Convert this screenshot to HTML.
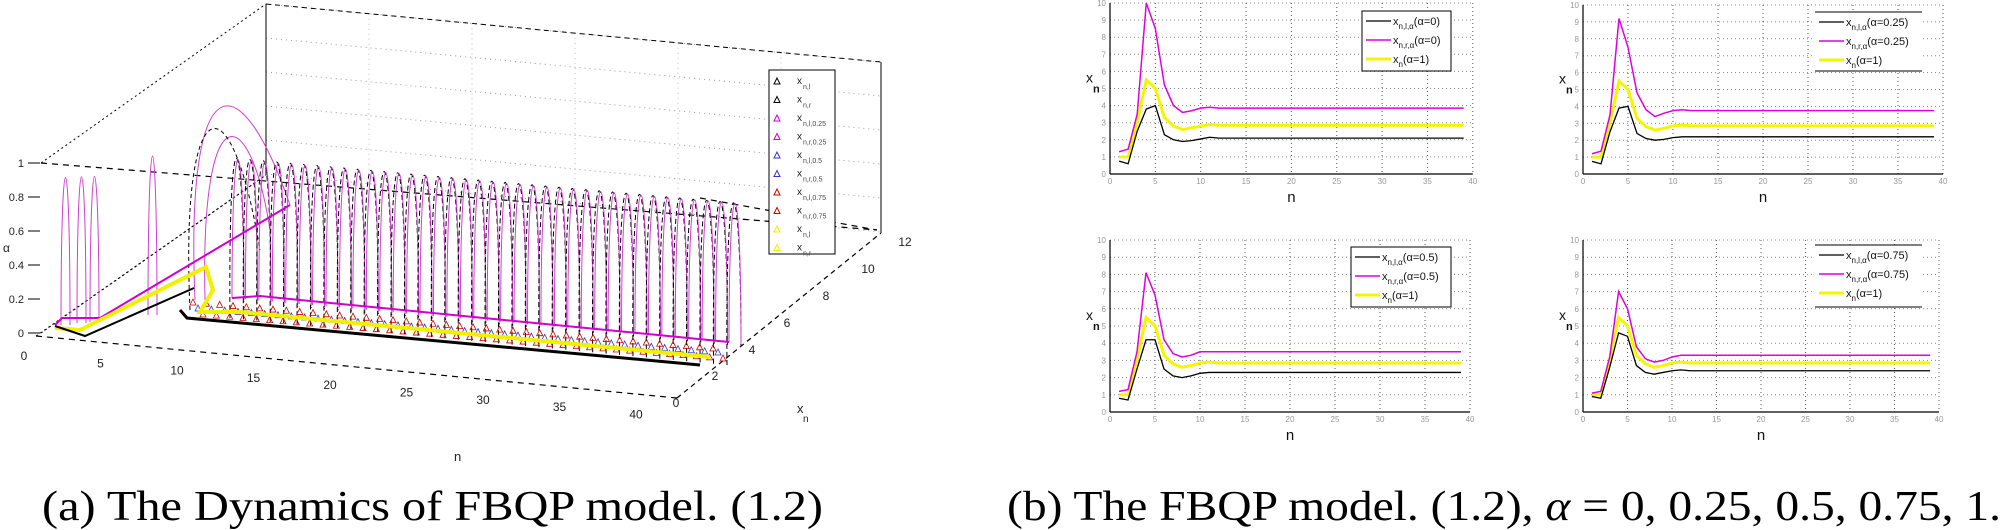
<!DOCTYPE html>
<html><head><meta charset="utf-8"><style>
html,body{margin:0;padding:0;background:#fff;}
svg{display:block;font-family:"Liberation Sans",sans-serif;}
</style></head><body>
<svg id="s" width="2006" height="530" xmlns="http://www.w3.org/2000/svg">
<g id="g3d"></g>
<g id="g2d"></g>
<text x="42" y="520" font-family="Liberation Serif, serif" font-size="42" textLength="781" lengthAdjust="spacingAndGlyphs">(a) The Dynamics of FBQP model. (1.2)</text>
<text x="1007" y="520" font-family="Liberation Serif, serif" font-size="42" textLength="994" lengthAdjust="spacingAndGlyphs">(b) The FBQP model. (1.2), <tspan font-style="italic">α</tspan> = 0, 0.25, 0.5, 0.75, 1.</text>
</svg>
<script>
const NS="http://www.w3.org/2000/svg";
function el(p,t,a,txt){const e=document.createElementNS(NS,t);for(const k in a)e.setAttribute(k,a[k]);if(txt!==undefined)e.textContent=txt;p.appendChild(e);return e;}
const G=document.getElementById('g3d');
function L(g,x1,y1,x2,y2,st,w,da){el(g,'line',{x1,y1,x2,y2,stroke:st,'stroke-width':w||1,'stroke-dasharray':da||'none'});}
// ---- 3D plot ----
// back grid (faint dotted)
for(let i=0;i<6;i++){let y=4+i*34;L(G,266,y,881,62+i*34,'#999',1,'1 4');}
for(let i=1;i<6;i++){let x=266+i*103;L(G,x,4+i*9.7,x,180+i*9,'#bbb',1,'1 4');}
L(G,266,4,881,62,'#000',1,'5 4');
L(G,41,163,266,4,'#000',1,'2 3');
L(G,41,333,266,175,'#000',1,'2 3');
L(G,266,4,266,175,'#000',1);
L(G,881,62,881,233,'#000',1);
L(G,41,163,877,230,'#000',1.2,'6 5');
L(G,700,198,877,230,'#000',1.2,'6 5');
L(G,36,336,677,398,'#000',1.2,'6 5');
L(G,677,398,881,233,'#000',1.2,'5 4');
L(G,36,336,266,175,'#000',1,'2 3');
// z ticks
const zt=['1','0.8','0.6','0.4','0.2','0'];
zt.forEach((t,i)=>{let y=163+i*34;L(G,28,y,40,y,'#000',1);el(G,'text',{x:24,y:y+4,'font-size':11,'text-anchor':'end',fill:'#222'},t);});
el(G,'text',{x:3,y:252,'font-size':12,fill:'#222'},'α');
// n ticks
for(let i=0;i<9;i++){let x=24+i*76.5,y=352+i*7.3;el(G,'text',{x:x,y:y+8,'font-size':12,'text-anchor':'middle',fill:'#222'},String(i*5));}
// xn ticks
[[676,401,'0'],[715,374,'2'],[752,348,'4'],[787,321,'6'],[826,294,'8'],[868,267,'10'],[905,240,'12']].forEach(a=>el(G,'text',{x:a[0],y:a[1]+6,'font-size':12,'text-anchor':'middle',fill:'#222'},a[2]));
el(G,'text',{x:797,y:413,'font-size':13,fill:'#222'},'x');
el(G,'text',{x:803,y:422,'font-size':10,fill:'#222'},'n');
el(G,'text',{x:454,y:461,'font-size':13,fill:'#222'},'n');
// early arcs
[[61,325,153],[77,323,153],[90,322,153],[148,315,128]].forEach(a=>{el(G,'path',{d:`M${a[0]} ${a[1]} C${a[0]} ${a[2]-25} ${a[0]+9} ${a[2]-25} ${a[0]+9} ${a[1]}`,fill:'none',stroke:'#d040d0','stroke-width':1});});
// big loop
el(G,'path',{d:'M195 300 C185 60 240 60 290 205',fill:'none',stroke:'#d040d0','stroke-width':1});
el(G,'path',{d:'M205 300 C200 90 250 100 270 230',fill:'none',stroke:'#d040d0','stroke-width':1});
el(G,'path',{d:'M190 310 C180 90 230 70 260 250',fill:'none',stroke:'#000','stroke-width':1,'stroke-dasharray':'4 3'});
// arcs along magenta line
for(let k=0;k<38;k++){
 let t=k/37;let x=232+t*(729-232),y=298+t*(342-298);
 let top=143+t*(187-143);let w=12;
 let yb=318+t*(365-318);
 el(G,'path',{d:`M${x-2} ${yb} C${x-4} ${top-35} ${x+w} ${top-35} ${x+w} ${y+4}`,fill:'none',stroke:'#000','stroke-width':1,'stroke-dasharray':'5 3'});
 el(G,'path',{d:`M${x} ${y} C${x} ${top-30} ${x+w} ${top-30} ${x+w} ${y+2}`,fill:'none',stroke:'#d040d0','stroke-width':1});
}
// markers rows
for(let k=0;k<40;k++){let t=k/39;let x=190+t*(520);
 [[302,348,'#c00'],[308,352,'#33c'],[314,358,'#c00']].forEach((r,j)=>{let y=r[0]+t*(r[1]-r[0]);let xx=x+j*5;el(G,'path',{d:`M${xx} ${y+3} L${xx+3} ${y-3} L${xx+6} ${y+3}Z`,fill:'none',stroke:r[2],'stroke-width':0.8});});}
// left segments
el(G,'polyline',{points:'55,325 62,318 100,318 290,205',fill:'none',stroke:'#d000d0','stroke-width':2});
el(G,'polyline',{points:'55,328 80,330 206,267 213,290 200,312 240,312 710,357',fill:'none',stroke:'#f0f000','stroke-width':4});
el(G,'polyline',{points:'55,326 85,336 194,288',fill:'none',stroke:'#000','stroke-width':2});
el(G,'polyline',{points:'180,310 187,318 700,365',fill:'none',stroke:'#000','stroke-width':3});
el(G,'polyline',{points:'232,298 260,296 300,300 729,342',fill:'none',stroke:'#d000d0','stroke-width':2});
// legend
el(G,'rect',{x:769,y:70,width:66,height:184,fill:'#fff',stroke:'#000','stroke-width':1});
const lc=['#000','#000','#d000d0','#d000d0','#33c','#33c','#c00','#c00','#ee0','#ee0'];
const ls=['l','r','l,0.25','r,0.25','l,0.5','r,0.5','l,0.75','r,0.75','l','r'];
for(let i=0;i<10;i++){let y=81+i*18.5;el(G,'path',{d:`M${774} ${y+3} L${777} ${y-3} L${780} ${y+3}Z`,fill:'none',stroke:lc[i]});
 el(G,'text',{x:797,y:y+3,'font-size':10,fill:'#222'},'x');el(G,'text',{x:803,y:y+8,'font-size':7,fill:'#444'},'n,'+ls[i]);}
// ---- 2D charts ----
const G2=document.getElementById('g2d');
function chart(x0,ux,y0,y10,curves,leg,lb,open){
 const X=n=>x0+n*ux,Y=v=>y0-(y0-y10)*v/10;
 for(let v=1;v<=10;v++)L(G2,x0,Y(v),X(40),Y(v),'#888',1,'1 3');
 for(let n=5;n<=40;n+=5)L(G2,X(n),y10,X(n),y0,'#555',1,'1 3');
 L(G2,x0,y10,x0,y0,'#000',1.2);L(G2,x0,y0,X(40),y0,'#000',1.2);
 for(let n=0;n<=40;n+=5)el(G2,'text',{x:X(n),y:y0+10,'font-size':8,'text-anchor':'middle',fill:'#999'},String(n));
 for(let v=0;v<=10;v++)el(G2,'text',{x:x0-4,y:Y(v)+3,'font-size':8,'text-anchor':'end',fill:'#999'},String(v));
 el(G2,'text',{x:X(20),y:y0+28,'font-size':15,'text-anchor':'middle',fill:'#111'},'n');
 el(G2,'text',{x:x0-24,y:(y0+y10)/2-6,'font-size':14,fill:'#111'},'x');
 el(G2,'text',{x:x0-17,y:(y0+y10)/2+4,'font-size':11,fill:'#111','font-weight':'bold'},'n');
 const cols=['#000','#e000e0','#f5f500'],wd=[1.3,1.5,3];
 [2,1,0].forEach(i=>{let d=curves[i];let pts=d.map((v,j)=>X(j+1)+','+Y(v)).join(' ');
  el(G2,'polyline',{points:pts,fill:'none',stroke:cols[i],'stroke-width':wd[i]});});
 // legend
 el(G2,'rect',{x:lb[0],y:lb[1],width:lb[2]-lb[0],height:lb[3]-lb[1],fill:'#fff',stroke:open?'none':'#000'});
 if(open){L(G2,lb[0],lb[1],lb[2],lb[1],'#000',1);L(G2,lb[0],lb[3],lb[2],lb[3],'#000',1);}
 for(let i=0;i<3;i++){let y=lb[1]+10+i*19;L(G2,lb[0]+4,y,lb[0]+29,y,cols[i],wd[i]);
  let t=el(G2,'text',{x:lb[0]+31,y:y+4,'font-size':11,fill:'#111'});
  t.innerHTML=leg[i];}
}
function mk(a){ // a: [v1,v2,v3,peak4,v5,v6,v7,v8,v9,v10,v11,flat]
 let r=a.slice(0,11);while(r.length<39)r.push(a[11]);return r;}
const sub=(s)=>`<tspan font-size="8" dy="4">${s}</tspan><tspan dy="-4">`;
function lab(s,al){return `x${sub(s)}(<tspan>α</tspan>=${al})</tspan>`;}
chart(1110,9.07,174,3,[
 mk([0.75,0.6,2.5,3.8,4.0,2.3,2.0,1.9,1.95,2.05,2.15,2.1]),
 mk([1.3,1.45,3.5,10,8.5,5.2,4.0,3.6,3.7,3.85,3.9,3.85]),
 mk([1.0,1.0,3.0,5.5,5.0,3.3,2.8,2.6,2.7,2.8,2.9,2.85])],
 [lab('n,l,α','0'),lab('n,r,α','0'),lab('n','1')],[1362,11,1451,71],false);
chart(1583,9.0,174,5,[
 mk([0.75,0.6,2.5,3.9,4.0,2.4,2.1,2.0,2.05,2.15,2.2,2.2]),
 mk([1.2,1.35,3.5,9.2,7.5,4.8,3.8,3.4,3.6,3.75,3.8,3.75]),
 mk([1.0,1.0,3.0,5.5,5.0,3.3,2.8,2.6,2.7,2.85,2.9,2.85])],
 [lab('n,l,α','0.25'),lab('n,r,α','0.25'),lab('n','1')],[1815,12,1922,71],true);
chart(1110,9.0,412,240,[
 mk([0.8,0.7,2.5,4.2,4.2,2.5,2.1,2.0,2.1,2.25,2.3,2.3]),
 mk([1.2,1.3,3.5,8.1,6.8,4.2,3.4,3.2,3.3,3.5,3.5,3.5]),
 mk([1.0,1.0,3.0,5.5,5.0,3.3,2.8,2.6,2.7,2.85,2.9,2.85])],
 [lab('n,l,α','0.5'),lab('n,r,α','0.5'),lab('n','1')],[1351,247,1451,307],false);
chart(1583,8.9,412,240,[
 mk([0.9,0.8,2.6,4.6,4.4,2.7,2.3,2.2,2.3,2.4,2.45,2.4]),
 mk([1.1,1.2,3.2,7.0,6.0,3.8,3.1,2.9,3.0,3.2,3.3,3.3]),
 mk([1.0,1.0,3.0,5.5,5.0,3.3,2.8,2.6,2.7,2.85,2.9,2.85])],
 [lab('n,l,α','0.75'),lab('n,r,α','0.75'),lab('n','1')],[1815,245,1922,307],true);
</script>
</body></html>
